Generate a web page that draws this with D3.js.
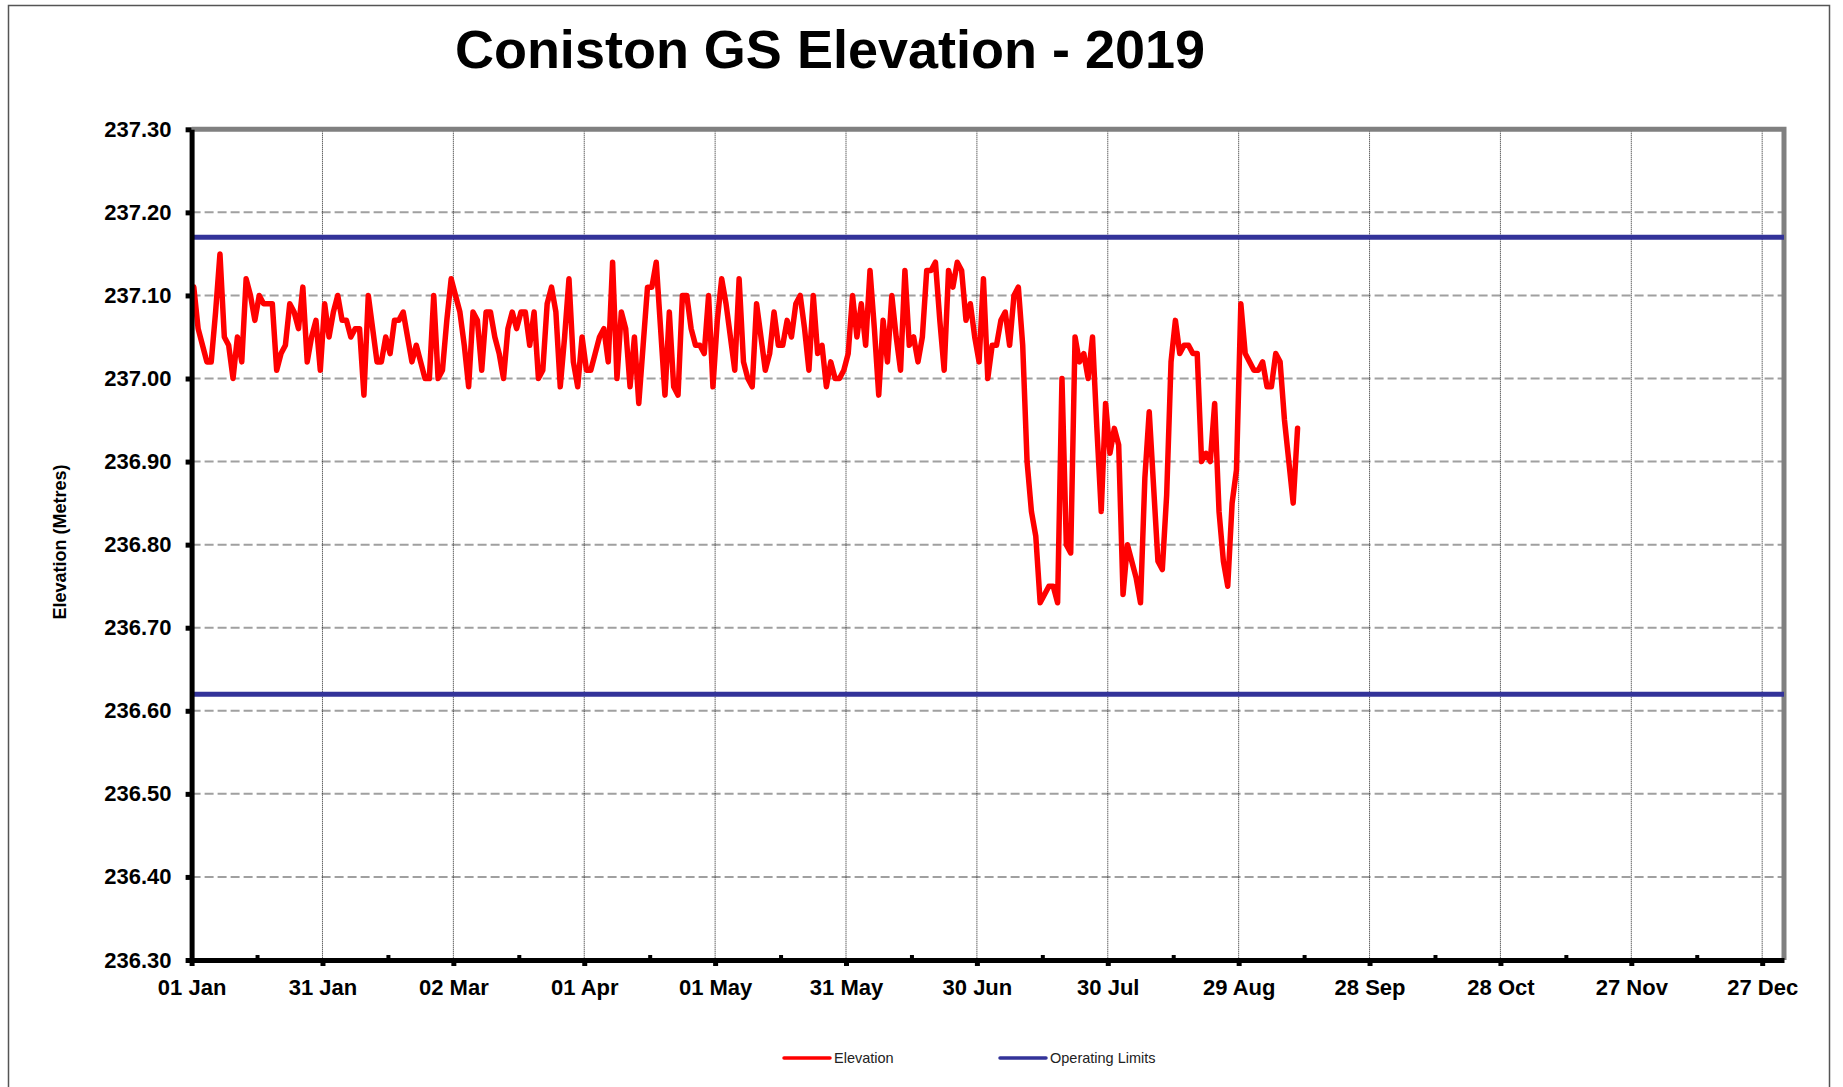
<!DOCTYPE html>
<html>
<head>
<meta charset="utf-8">
<script src="https://cdn.jsdelivr.net/npm/d3@7"></script>
<style>
body { margin: 0; background: #fff; }
text { font-family: "Liberation Sans", Arial, sans-serif; }
</style>
</head>
<body>
<div id="chart"></div>
<script>
// daily readings from 01 Jan 2019
var elevation = [
	237.11, 237.06, 237.04, 237.02, 237.02, 237.08, 237.15, 237.05, 237.04, 237.00,
	237.05, 237.02, 237.12, 237.10, 237.07, 237.10, 237.09, 237.09, 237.09, 237.01,
	237.03, 237.04, 237.09, 237.08, 237.06, 237.11, 237.02, 237.05, 237.07, 237.01,
	237.09, 237.05, 237.08, 237.10, 237.07, 237.07, 237.05, 237.06, 237.06, 236.98,
	237.10, 237.06, 237.02, 237.02, 237.05, 237.03, 237.07, 237.07, 237.08, 237.05,
	237.02, 237.04, 237.02, 237.00, 237.00, 237.10, 237.00, 237.01, 237.07, 237.12,
	237.10, 237.08, 237.04, 236.99, 237.08, 237.07, 237.01, 237.08, 237.08, 237.05,
	237.03, 237.00, 237.06, 237.08, 237.06, 237.08, 237.08, 237.04, 237.08, 237.00,
	237.01, 237.09, 237.11, 237.08, 236.99, 237.05, 237.12, 237.02, 236.99, 237.05,
	237.01, 237.01, 237.03, 237.05, 237.06, 237.02, 237.14, 237.00, 237.08, 237.06,
	236.99, 237.05, 236.97, 237.04, 237.11, 237.11, 237.14, 237.06, 236.98, 237.08,
	236.99, 236.98, 237.10, 237.10, 237.06, 237.04, 237.04, 237.03, 237.10, 236.99,
	237.07, 237.12, 237.09, 237.05, 237.01, 237.12, 237.02, 237.00, 236.99, 237.09,
	237.05, 237.01, 237.03, 237.08, 237.04, 237.04, 237.07, 237.05, 237.09, 237.10,
	237.06, 237.01, 237.10, 237.03, 237.04, 236.99, 237.02, 237.00, 237.00, 237.01,
	237.03, 237.10, 237.05, 237.09, 237.04, 237.13, 237.06, 236.98, 237.07, 237.02,
	237.10, 237.05, 237.01, 237.13, 237.04, 237.05, 237.02, 237.05, 237.13, 237.13,
	237.14, 237.07, 237.01, 237.13, 237.11, 237.14, 237.13, 237.07, 237.09, 237.05,
	237.02, 237.12, 237.00, 237.04, 237.04, 237.07, 237.08, 237.04, 237.10, 237.11,
	237.04, 236.90, 236.84, 236.81, 236.73, 236.74, 236.75, 236.75, 236.73, 237.00,
	236.80, 236.79, 237.05, 237.02, 237.03, 237.00, 237.05, 236.94, 236.84, 236.97,
	236.91, 236.94, 236.92, 236.74, 236.80, 236.78, 236.76, 236.73, 236.88, 236.96,
	236.87, 236.78, 236.77, 236.86, 237.02, 237.07, 237.03, 237.04, 237.04, 237.03,
	237.03, 236.90, 236.91, 236.90, 236.97, 236.84, 236.78, 236.75, 236.85, 236.89,
	237.09, 237.03, 237.02, 237.01, 237.01, 237.02, 236.99, 236.99, 237.03, 237.02,
	236.95, 236.90, 236.85, 236.94
];

var limits = [237.17, 236.62];

var yTicks = [236.30, 236.40, 236.50, 236.60, 236.70, 236.80, 236.90, 237.00, 237.10, 237.20, 237.30];

var xTickLabels = ["01 Jan", "31 Jan", "02 Mar", "01 Apr", "01 May", "31 May", "30 Jun",
	"30 Jul", "29 Aug", "28 Sep", "28 Oct", "27 Nov", "27 Dec"];

var w = 1843, h = 1087;
var plotLeft = 191.6, plotRight = 1784, plotTop = 129.3, plotBottom = 960;

var start = new Date(2019, 0, 1);
var parseTick = d3.timeParse("%d %b %Y");
var xMajor = xTickLabels.map(function(s) { return parseTick(s + " 2019"); });
var xMinor = xMajor.map(function(d) { return d3.timeDay.offset(d, 15); }).slice(0, 12);

var points = elevation.map(function(v, i) {
	return { date: d3.timeHour.offset(d3.timeDay.offset(start, i), 12), value: v };
});

var svg = d3.select("#chart")
	.append("svg")
	.attr("width", w)
	.attr("height", h);

svg.append("rect")
	.attr("width", w)
	.attr("height", h)
	.attr("fill", "#fff");

// outer frame
svg.append("rect")
	.attr("x", 8.5)
	.attr("y", 5.5)
	.attr("width", 1821)
	.attr("height", 1090)
	.attr("fill", "none")
	.attr("stroke", "#555")
	.attr("stroke-width", 1.5);

var x = d3.scaleTime()
	.domain([start, new Date(2020, 0, 1)])
	.range([plotLeft, plotRight]);

var y = d3.scaleLinear()
	.domain([236.30, 237.30])
	.range([plotBottom, plotTop]);

// title
svg.append("text")
	.text("Coniston GS Elevation - 2019")
	.attr("x", 830)
	.attr("y", 68)
	.attr("text-anchor", "middle")
	.attr("font-size", 54)
	.attr("font-weight", "bold")
	.attr("fill", "#000");

// horizontal gridlines
svg.append("g")
	.selectAll("line")
	.data(yTicks.slice(1, -1))
	.enter().append("line")
	.attr("x1", plotLeft)
	.attr("x2", plotRight)
	.attr("y1", function(d) { return y(d); })
	.attr("y2", function(d) { return y(d); })
	.attr("stroke", "#a0a0a0")
	.attr("stroke-width", 2)
	.attr("stroke-dasharray", "9,4");

// vertical gridlines
svg.append("g")
	.selectAll("line")
	.data(xMajor.slice(1))
	.enter().append("line")
	.attr("x1", function(d) { return x(d); })
	.attr("x2", function(d) { return x(d); })
	.attr("y1", plotTop)
	.attr("y2", plotBottom)
	.attr("stroke", "#222")
	.attr("stroke-width", 1)
	.attr("stroke-dasharray", "1,1");

// top and right frame
svg.append("path")
	.attr("d", "M" + plotLeft + "," + plotTop + "H" + plotRight + "V" + plotBottom)
	.attr("fill", "none")
	.attr("stroke", "#808080")
	.attr("stroke-width", 5);

// operating limits
svg.append("g")
	.selectAll("line")
	.data(limits)
	.enter().append("line")
	.attr("x1", plotLeft)
	.attr("x2", plotRight)
	.attr("y1", function(d) { return y(d); })
	.attr("y2", function(d) { return y(d); })
	.attr("stroke", "#333399")
	.attr("stroke-width", 5);

// elevation line
var line = d3.line()
	.x(function(d) { return x(d.date); })
	.y(function(d) { return y(d.value); });

svg.append("path")
	.datum(points)
	.attr("d", line)
	.attr("fill", "none")
	.attr("stroke", "#ff0000")
	.attr("stroke-width", 5.5)
	.attr("stroke-linejoin", "round")
	.attr("stroke-linecap", "round");

// axes
var fmt = d3.timeFormat("%d %b");

var xAxis = svg.append("g")
	.attr("transform", "translate(0," + plotBottom + ")")
	.call(d3.axisBottom(x).tickValues(xMajor).tickFormat(fmt).tickSize(6).tickPadding(13).tickSizeOuter(0));

var xMinorAxis = svg.append("g")
	.attr("transform", "translate(0," + plotBottom + ")")
	.call(d3.axisBottom(x).tickValues(xMinor).tickFormat("").tickSize(-5).tickSizeOuter(0));
xMinorAxis.select(".domain").remove();
xMinorAxis.selectAll("line").attr("stroke", "#000").attr("stroke-width", 4);

var yAxis = svg.append("g")
	.attr("transform", "translate(" + plotLeft + ",0)")
	.call(d3.axisLeft(y).tickValues(yTicks).tickFormat(d3.format(".2f")).tickSize(6).tickPadding(14).tickSizeOuter(0));

[xAxis, yAxis].forEach(function(g) {
	g.select(".domain").attr("stroke", "#000").attr("stroke-width", 5);
	g.selectAll(".tick line").attr("stroke", "#000").attr("stroke-width", 5);
	g.selectAll(".tick text")
		.attr("font-family", "Liberation Sans, Arial, sans-serif")
		.attr("font-size", 22)
		.attr("font-weight", "bold")
		.attr("fill", "#000");
});

// y axis title
svg.append("text")
	.text("Elevation (Metres)")
	.attr("transform", "translate(66,542) rotate(-90)")
	.attr("text-anchor", "middle")
	.attr("font-size", 18)
	.attr("font-weight", "bold")
	.attr("fill", "#000");

// legend
var legendItems = [
	{ name: "Elevation", color: "#ff0000", x: 784 },
	{ name: "Operating Limits", color: "#333399", x: 1000 }
];

var legend = svg.append("g");

legend.selectAll("line")
	.data(legendItems)
	.enter().append("line")
	.attr("x1", function(d) { return d.x; })
	.attr("x2", function(d) { return d.x + 46; })
	.attr("y1", 1058)
	.attr("y2", 1058)
	.attr("stroke", function(d) { return d.color; })
	.attr("stroke-width", 3.5)
	.attr("stroke-linecap", "round");

legend.selectAll("text")
	.data(legendItems)
	.enter().append("text")
	.text(function(d) { return d.name; })
	.attr("x", function(d) { return d.x + 50; })
	.attr("y", 1063)
	.attr("font-size", 14.5)
	.attr("fill", "#222");
</script>
</body>
</html>
